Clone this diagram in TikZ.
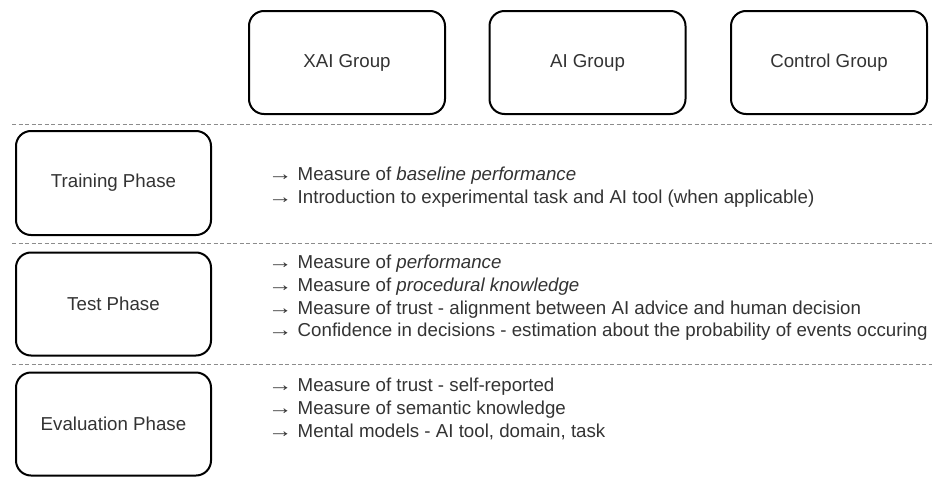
\documentclass[tikz,border=0pt]{standalone}
\usepackage{graphicx}
\usepackage{fontspec}
\setmainfont{Liberation Sans}
% thin, wide arrow that opens each measure
\newcommand\itemarrow{\scalebox{1.3}[1.05]{→}}
\begin{document}
\begin{tikzpicture}[x=1pt,y=-1pt,
  box/.style={draw=black, line width=2pt, rounded corners=15pt, fill=white,
    text=black!80, font=\fontsize{18.7}{22}\selectfont, inner sep=0pt},
  groupbox/.style={box, minimum width=196pt, minimum height=103pt},
  phasebox/.style={box, minimum width=195pt, minimum height=103pt},
  sep/.style={draw=black!45, line width=0.8pt, dash pattern=on 4pt off 2.5pt},
  items/.style={anchor=west, align=left, inner sep=0pt, text=black!80,
    font=\fontsize{18.7}{22.6}\selectfont}]
  \useasboundingbox (0,0) rectangle (932,479);

  % experimental groups
  \node[groupbox] (xai) at (347,62.5) {XAI Group};
  \node[groupbox] (ai) at (587.5,62.5) {AI Group};
  \node[groupbox] (ctrl) at (829,62.5) {Control Group};

  % phase separators
  \coordinate (s1a) at (12,124);  \coordinate (s1b) at (932,124);
  \coordinate (s2a) at (12,243);  \coordinate (s2b) at (932,243);
  \coordinate (s3a) at (12,364);  \coordinate (s3b) at (932,364);
  \draw[sep] (s1a) -- (s1b);
  \draw[sep] (s2a) -- (s2b);
  \draw[sep] (s3a) -- (s3b);

  % phases
  \node[phasebox, minimum height=104pt] (train) at (113.5,183) {Training Phase};
  \node[phasebox] (test) at (113.5,304) {Test Phase};
  \node[phasebox] (eval) at (113.5,424) {Evaluation Phase};

  % measures per phase
  \node[items] (trainitems) at (268,187) {%
    \itemarrow{} Measure of \textit{baseline performance}\\
    \itemarrow{} Introduction to experimental task and AI tool (when applicable)};
  \node[items] (testitems) at (268,298) {%
    \itemarrow{} Measure of \textit{performance}\\
    \itemarrow{} Measure of \textit{procedural knowledge}\\
    \itemarrow{} Measure of trust - alignment between AI advice and human decision\\
    \itemarrow{} Confidence in decisions - estimation about the probability of events occuring};
  \node[items] (evalitems) at (268,409) {%
    \itemarrow{} Measure of trust - self-reported\\
    \itemarrow{} Measure of semantic knowledge\\
    \itemarrow{} Mental models - AI tool, domain, task};
\end{tikzpicture}
\end{document}
